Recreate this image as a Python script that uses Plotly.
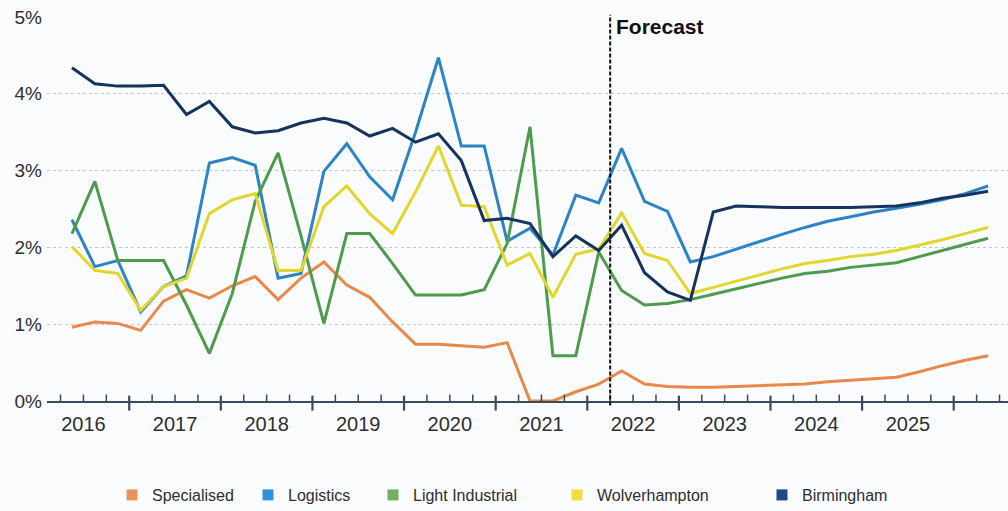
import plotly.graph_objects as go

# Quarterly series (% growth), first point Q2 2016; forecast begins after index 23
years = ["2016", "2017", "2018", "2019", "2020", "2021", "2022", "2023", "2024", "2025"]

specialised = [0.96, 1.03, 1.01, 0.92, 1.30, 1.45, 1.34, 1.50, 1.62, 1.32,
               1.60, 1.81, 1.51, 1.35, 1.03, 0.74, 0.74, 0.72, 0.70, 0.76,
               0.00, 0.00, 0.12, 0.22, 0.39, 0.22, 0.19, 0.18, 0.18, 0.19,
               0.20, 0.21, 0.22, 0.25, 0.27, 0.29, 0.31, 0.38, 0.46, 0.53, 0.59]
logistics = [2.36, 1.75, 1.83, 1.16, 1.49, 1.63, 3.10, 3.17, 3.07, 1.60,
             1.66, 2.99, 3.35, 2.92, 2.62, 3.50, 4.47, 3.32, 3.32, 2.08,
             2.25, 1.90, 2.68, 2.58, 3.29, 2.60, 2.47, 1.81, 1.88, 1.98,
             2.08, 2.17, 2.26, 2.34, 2.40, 2.46, 2.51, 2.56, 2.62, 2.70, 2.80]
light_industrial = [2.18, 2.86, 1.83, 1.83, 1.83, 1.25, 0.62, 1.40, 2.60, 3.23,
                    2.15, 1.01, 2.18, 2.18, 1.79, 1.38, 1.38, 1.38, 1.45, 2.05,
                    3.57, 0.59, 0.59, 1.94, 1.44, 1.25, 1.27, 1.32, 1.39, 1.46,
                    1.53, 1.60, 1.66, 1.69, 1.74, 1.77, 1.80, 1.88, 1.96, 2.05, 2.12]
wolverhampton = [2.01, 1.70, 1.66, 1.18, 1.49, 1.60, 2.44, 2.62, 2.70, 1.70,
                 1.70, 2.53, 2.80, 2.44, 2.18, 2.72, 3.32, 2.55, 2.53, 1.77,
                 1.92, 1.35, 1.91, 1.98, 2.45, 1.92, 1.83, 1.40, 1.48, 1.56,
                 1.64, 1.72, 1.79, 1.83, 1.88, 1.91, 1.96, 2.03, 2.10, 2.18, 2.26]
birmingham = [4.34, 4.13, 4.10, 4.10, 4.11, 3.73, 3.90, 3.57, 3.49, 3.52,
              3.62, 3.68, 3.62, 3.45, 3.55, 3.37, 3.48, 3.13, 2.35, 2.38,
              2.31, 1.88, 2.15, 1.96, 2.29, 1.67, 1.42, 1.31, 2.46, 2.54,
              2.53, 2.52, 2.52, 2.52, 2.52, 2.53, 2.54, 2.58, 2.64, 2.68, 2.73]

series = [
    ("Specialised", specialised, "#e8894a", "#e8945a"),
    ("Logistics", logistics, "#2d84c4", "#2f93d8"),
    ("Light Industrial", light_industrial, "#4f9a4c", "#74b062"),
    ("Wolverhampton", wolverhampton, "#e3d62b", "#f3dc3c"),
    ("Birmingham", birmingham, "#18325e", "#1f4a86"),
]

n = len(specialised)
qx = list(range(n))
forecast_at = 23.5
year_pos = [0.5 + 4 * k for k in range(len(years))]
major_ticks = [2.5 + 4 * k for k in range(len(years))]
minor_ticks = [j + 0.5 for j in range(-1, n) if (j + 0.5) not in major_ticks]

axis_col = "#3b4a5e"
text_col = "#2e2e2e"
bg = "#f9fbfd"
FONT = "Liberation Sans, Arial, sans-serif"

W, H = 1008, 511
ML, MR, MT, MB = 47, 0, 17, 110
plot_w = W - ML - MR
plot_h = H - MT - MB

fig = go.Figure()
for name, vals, col, _ in series:
    fig.add_trace(go.Scatter(x=qx, y=vals, mode="lines", name=name,
                             line=dict(color=col, width=3),
                             showlegend=False, hoverinfo="skip"))

# legend entries with square swatches, each placed along the bottom
legend_px = [112, 248, 373, 557, 762]
legend_y = (H - MB - 495) / plot_h
for k, (name, vals, col, swatch) in enumerate(series):
    lid = "legend" if k == 0 else f"legend{k + 1}"
    fig.add_trace(go.Scatter(x=[None], y=[None], mode="markers", name=name,
                             marker=dict(symbol="square", size=11, color=swatch),
                             legend=lid, showlegend=True))
    fig.update_layout({lid: dict(x=(legend_px[k] - ML) / plot_w, xanchor="left",
                                 y=legend_y, yanchor="middle",
                                 bgcolor="rgba(0,0,0,0)", borderwidth=0,
                                 font=dict(family=FONT, size=16, color=text_col))})

shapes = []
for t in minor_ticks:
    shapes.append(dict(type="line", xref="x", yref="paper", x0=t, x1=t, y0=-0.004, y1=0.017,
                       line=dict(color=axis_col, width=1.5)))
for t in major_ticks:
    shapes.append(dict(type="line", xref="x", yref="paper", x0=t, x1=t, y0=-0.025, y1=0.014,
                       line=dict(color=axis_col, width=2.2)))
shapes.append(dict(type="line", xref="x", yref="paper", x0=forecast_at, x1=forecast_at,
                   y0=-0.012, y1=1.006, line=dict(color="#111111", width=2, dash="4px,2px")))

fig.update_layout(
    width=W, height=H,
    margin=dict(l=ML, r=MR, t=MT, b=MB, autoexpand=False),
    paper_bgcolor=bg, plot_bgcolor=bg,
    font=dict(family=FONT, color=text_col),
    shapes=shapes,
    annotations=[dict(x=forecast_at, xref="x", xanchor="left", xshift=4,
                      y=0.974, yref="paper", yanchor="middle", showarrow=False,
                      text="<b>Forecast</b>", font=dict(family=FONT, size=21, color="#111111"))],
    xaxis=dict(range=[-1.09, 40.87], tickmode="array", tickvals=year_pos, ticktext=years,
               ticks="", showgrid=False, zeroline=False, showline=True, automargin=False,
               linecolor=axis_col, linewidth=2, ticklabelstandoff=4, tickangle=0,
               tickfont=dict(family=FONT, size=20, color=text_col)),
    yaxis=dict(range=[0, 5], tickmode="array", tickvals=[0, 1, 2, 3, 4, 5],
               ticktext=["0%", "1%", "2%", "3%", "4%", "5%"], ticks="", automargin=False,
               showgrid=True, gridcolor="#c3c7cb", gridwidth=1, griddash="dot",
               zeroline=False, showline=False, ticklabelstandoff=4,
               tickfont=dict(family=FONT, size=19, color=text_col)),
)

fig.write_html("out.html")
